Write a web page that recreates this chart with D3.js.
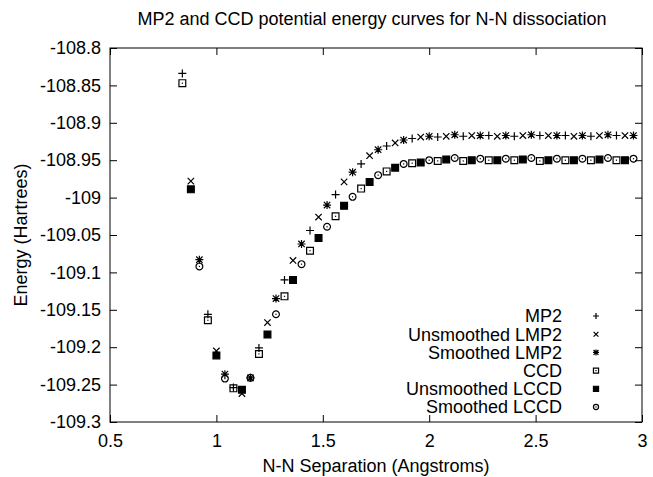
<!DOCTYPE html>
<html>
<head>
<meta charset="utf-8">
<script src="https://cdn.jsdelivr.net/npm/d3@7"></script>
<style>
  html, body { margin: 0; padding: 0; background: #fff; }
  svg { display: block; }
  text { font-family: "Liberation Sans", Arial, Helvetica, sans-serif; fill: #000; }
</style>
</head>
<body>
<svg id="chart" width="653" height="477"></svg>
<script>
// ---------------- data ----------------
const rMP2 = [0.84,0.96,1.08,1.20,1.32,1.44,1.56,1.68,1.80,1.92,2.04,2.16,2.28,2.40,2.52,2.64,2.76,2.88];
const rUnsmoothed = [0.88,1.00,1.12,1.24,1.36,1.48,1.60,1.72,1.84,1.96,2.08,2.20,2.32,2.44,2.56,2.68,2.80,2.92];
const rSmoothed = [0.92,1.04,1.16,1.28,1.40,1.52,1.64,1.76,1.88,2.00,2.12,2.24,2.36,2.48,2.60,2.72,2.84,2.96];

const eMP2 = [-108.834,-109.156,-109.254,-109.201,-109.110,-109.044,-108.996,-108.955,-108.931,-108.921,-108.919,-108.918,-108.917,-108.918,-108.917,-108.917,-108.918,-108.917];
const eUnsmoothedLMP2 = [-108.978,-109.205,-109.262,-109.167,-109.084,-109.026,-108.979,-108.944,-108.927,-108.919,-108.918,-108.917,-108.918,-108.917,-108.917,-108.918,-108.917,-108.917];
const eSmoothedLMP2 = [-109.083,-109.236,-109.241,-109.135,-109.062,-109.010,-108.966,-108.936,-108.923,-108.918,-108.916,-108.917,-108.917,-108.916,-108.917,-108.917,-108.916,-108.917];
const eCCD = [-108.847,-109.164,-109.255,-109.209,-109.132,-109.071,-109.025,-108.988,-108.965,-108.954,-108.951,-108.951,-108.950,-108.950,-108.951,-108.950,-108.950,-108.950];
const eUnsmoothedLCCD = [-108.989,-109.211,-109.257,-109.183,-109.110,-109.054,-109.011,-108.979,-108.960,-108.953,-108.949,-108.950,-108.950,-108.949,-108.950,-108.950,-108.949,-108.950];
const eSmoothedLCCD = [-109.092,-109.242,-109.241,-109.156,-109.089,-109.039,-108.999,-108.970,-108.955,-108.950,-108.947,-108.948,-108.948,-108.947,-108.948,-108.948,-108.947,-108.948];

const seriesNames = ["MP2","Unsmoothed LMP2","Smoothed LMP2","CCD","Unsmoothed LCCD","Smoothed LCCD"];
const xTickValues = [0.5,1,1.5,2,2.5,3];
const xTickLabels = ["0.5","1","1.5","2","2.5","3"];
const yTickValues = [-108.8,-108.85,-108.9,-108.95,-109,-109.05,-109.1,-109.15,-109.2,-109.25,-109.3];
const yTickLabels = ["-108.8","-108.85","-108.9","-108.95","-109","-109.05","-109.1","-109.15","-109.2","-109.25","-109.3"];
const titleText = "MP2 and CCD potential energy curves for N-N dissociation";
const xTitle = "N-N Separation (Angstroms)";
const yTitle = "Energy (Hartrees)";

// ---------------- layout ----------------
const W = 653, H = 477;
const L = 110, R = 642, T = 48, B = 422;
const FS = 18;
const svg = d3.select("#chart");

const x = d3.scaleLinear().domain([0.5, 3]).range([L, R]);
const y = d3.scaleLinear().domain([-109.3, -108.8]).range([B, T]);

// marker shapes
function markerPath(type, s) {
  const h = s, c = s * 0.8, q = s * 0.85;
  switch (type) {
    case "plus": return `M${-h},0H${h}M0,${-h}V${h}`;
    case "cross": return `M${-c},${-c}L${c},${c}M${-c},${c}L${c},${-c}`;
    case "star": return `M${-h},0H${h}M0,${-h}V${h}M${-c},${-c}L${c},${c}M${-c},${c}L${c},${-c}`;
    case "square":
    case "fsquare": return `M${-q},${-q}H${q}V${q}H${-q}Z`;
    case "circle": return `M${q},0A${q},${q} 0 1,1 ${-q},0A${q},${q} 0 1,1 ${q},0Z`;
  }
}
const markerTypes = ["plus","cross","star","square","fsquare","circle"];
const seriesR = [rMP2, rUnsmoothed, rSmoothed, rMP2, rUnsmoothed, rSmoothed];
const seriesE = [eMP2, eUnsmoothedLMP2, eSmoothedLMP2, eCCD, eUnsmoothedLCCD, eSmoothedLCCD];

function drawMarker(g, type, cx, cy, s) {
  g.append("path")
    .attr("transform", `translate(${cx},${cy})`)
    .attr("d", markerPath(type, s))
    .attr("stroke", "#000")
    .attr("stroke-width", 1.2)
    .attr("fill", type === "fsquare" ? "#000" : "none");
  if (type === "square" || type === "circle") {
    g.append("rect").attr("x", cx - 0.6).attr("y", cy - 0.6).attr("width", 1.2).attr("height", 1.2).attr("fill", "#000");
  }
}

// ---------------- axes ----------------
function styleAxis(g) {
  g.select(".domain").remove();
  g.selectAll("line").attr("stroke", "#000").attr("stroke-width", 1);
  g.selectAll("text").attr("font-size", FS).attr("font-family", '"Liberation Sans", Arial, sans-serif').attr("fill", "#000");
}

svg.append("g").attr("transform", `translate(0,${B})`)
  .call(d3.axisBottom(x).tickValues(xTickValues).tickFormat((d, i) => xTickLabels[i]).tickSizeInner(-7).tickSizeOuter(0).tickPadding(12))
  .call(styleAxis);
svg.append("g").attr("transform", `translate(0,${T})`)
  .call(d3.axisTop(x).tickValues(xTickValues).tickFormat("").tickSizeInner(-7).tickSizeOuter(0))
  .call(styleAxis);
svg.append("g").attr("transform", `translate(${L},0)`)
  .call(d3.axisLeft(y).tickValues(yTickValues).tickFormat((d, i) => yTickLabels[i]).tickSizeInner(-7).tickSizeOuter(0).tickPadding(9))
  .call(styleAxis);
svg.append("g").attr("transform", `translate(${R},0)`)
  .call(d3.axisRight(y).tickValues(yTickValues).tickFormat("").tickSizeInner(-7).tickSizeOuter(0))
  .call(styleAxis);

svg.append("rect").attr("x", L).attr("y", T).attr("width", R - L).attr("height", B - T)
  .attr("fill", "none").attr("stroke", "#000").attr("stroke-width", 1);

// ---------------- titles ----------------
svg.append("text").attr("x", 372).attr("y", 25).attr("text-anchor", "middle").attr("font-size", FS).text(titleText);
svg.append("text").attr("x", (L + R) / 2).attr("y", 472).attr("text-anchor", "middle").attr("font-size", FS).text(xTitle);
svg.append("text").attr("transform", `translate(27,${(T + B) / 2}) rotate(-90)`).attr("text-anchor", "middle").attr("font-size", FS).text(yTitle);

// ---------------- points ----------------
const gp = svg.append("g");
seriesE.forEach((es, si) => {
  es.forEach((e, i) => {
    drawMarker(gp, markerTypes[si], x(seriesR[si][i]), y(e), 4);
  });
});

// ---------------- legend ----------------
const legY0 = 316, legDY = 18.2, legTextX = 562, legSymX = 596;
const gl = svg.append("g");
seriesNames.forEach((name, i) => {
  const yy = legY0 + i * legDY;
  gl.append("text").attr("x", legTextX).attr("y", yy).attr("dy", "0.35em")
    .attr("text-anchor", "end").attr("font-size", FS).text(name);
  drawMarker(gl, markerTypes[i], legSymX, yy, 3);
});
</script>
</body>
</html>
